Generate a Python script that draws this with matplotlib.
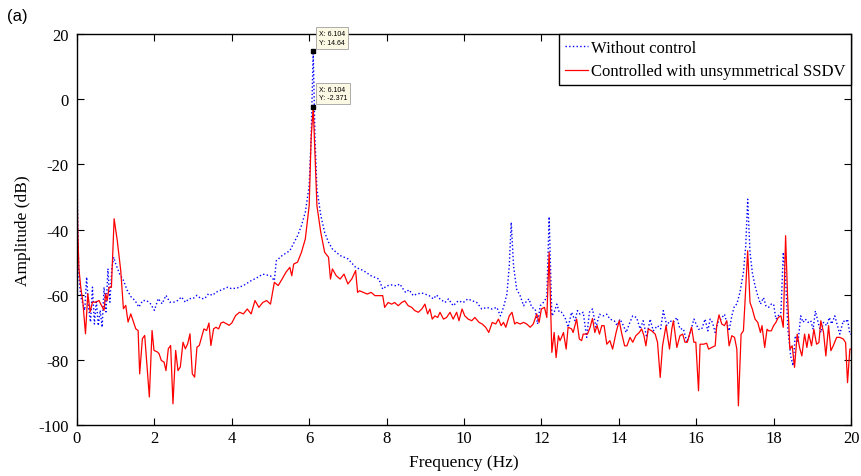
import numpy as np
import matplotlib.pyplot as plt

# Without control (blue, dotted)
f_blue = [0.0, 0.02, 0.05, 0.1, 0.2, 0.25, 0.3, 0.35, 0.4, 0.45, 0.5, 0.55, 0.6, 0.65, 0.7, 0.75,
          0.8, 0.85, 0.9, 0.95, 1.0, 1.1, 1.2, 1.3, 1.4, 1.5, 1.6, 1.7, 1.8, 1.9, 2.0, 2.1, 2.2,
          2.3, 2.4, 2.5, 2.6, 2.7, 2.8, 2.9, 3.0, 3.1, 3.2, 3.3, 3.4, 3.5, 3.6, 3.7, 3.8, 3.9,
          4.0, 4.15, 4.3, 4.5, 4.65, 4.8, 5.0, 5.1, 5.15, 5.3, 5.5, 5.7, 5.8, 5.9, 6.0, 6.05,
          6.104, 6.15, 6.2, 6.3, 6.4, 6.5, 6.6, 6.8, 7.0, 7.2, 7.4, 7.6, 7.8, 7.9, 8.0,
          8.13, 8.26, 8.34, 8.43, 8.49, 8.58, 8.69, 8.78, 8.91, 8.99, 9.10, 9.21, 9.29, 9.38,
          9.51, 9.60, 9.72, 9.85, 9.98, 10.10, 10.22, 10.33, 10.46, 10.59, 10.72, 10.85, 10.94,
          11.02, 11.11, 11.17, 11.22, 11.28, 11.36, 11.45, 11.54, 11.62, 11.68, 11.75, 11.84,
          11.90, 11.97, 12.05, 12.14, 12.20, 12.27, 12.33, 12.40, 12.46, 12.52, 12.61, 12.69,
          12.78, 12.87, 12.93, 13.00, 13.08, 13.17, 13.24, 13.32, 13.41, 13.50, 13.60, 13.69,
          13.77, 13.88, 13.96, 14.03, 14.12, 14.19, 14.27, 14.36, 14.46, 14.55, 14.63, 14.72,
          14.81, 14.89, 15.00, 15.08, 15.15, 15.24, 15.32, 15.41, 15.50, 15.58, 15.67, 15.76,
          15.86, 15.94, 16.06, 16.14, 16.23, 16.30, 16.36, 16.42, 16.49, 16.56, 16.64, 16.73,
          16.79, 16.85, 16.92, 16.99, 17.05, 17.13, 17.22, 17.28, 17.33, 17.39, 17.45, 17.52,
          17.59, 17.66, 17.74, 17.80, 17.87, 17.94, 18.00, 18.06, 18.12, 18.19, 18.25, 18.31,
          18.37, 18.44, 18.50, 18.56, 18.63, 18.70, 18.76, 18.82, 18.89, 18.96, 19.02, 19.08,
          19.15, 19.22, 19.29, 19.37, 19.44, 19.50, 19.58, 19.65, 19.71, 19.80, 19.86, 19.91,
          19.97, 20.0]
a_blue = [-17, -40, -54.6, -60.7, -64.8, -54.6, -64, -68.4, -57.7, -69, -61.7, -69.5, -64.8, -70,
          -57.7, -65.3, -52, -62.3, -52, -48.5, -50.5, -53.6, -55.6, -58.7, -60.7, -61.8, -63.8,
          -61.8, -61.8, -62.8, -64.8, -61.2, -62.8, -60.2, -62.3, -62.3, -61.8, -60.7, -62.3,
          -61.2, -61.2, -60.2, -61.2, -61.2, -59.7, -60.2, -59.2, -58.7, -58.2, -57.7,
          -58.2, -57.9, -57.2, -55.7, -54.8, -53.7, -54.2, -55.7, -49.6, -48, -46.5, -41.9,
          -38.8, -34.7, -26.5, -12, 14.64, -12, -27.5, -35.7, -40.9, -43.9, -46, -48, -49,
          -51.6, -52.6, -54.2, -55.2, -58.3, -57.3,
          -57.0, -57.3, -56.7, -58.3, -59.3, -58.5, -60.3, -59.8, -59.5, -59.8, -60.3, -61.3,
          -60.1, -61.3, -62.4, -61.3, -63.4, -61.9, -62.4, -61.3, -61.9, -62.4, -64.4, -63.9,
          -64.4, -63.9, -66.5, -63.9, -59.8, -51.1, -37.8, -51.1, -58.3, -60.3, -63.4, -61.9,
          -61.3, -63.9, -64.4, -69, -63.4, -62.4, -60.8, -36.1, -66.5, -65.4, -62.9, -65.4,
          -65.4, -67, -70, -65.4, -68, -64.9, -66, -65.4, -73.1, -65.4, -64.4, -70, -66,
          -66.5, -66, -67.5, -68, -69.5, -67.5, -69.5, -71.6, -69, -66.5, -67, -70.5, -68,
          -73.1, -67.5, -71.1, -69.5, -70.5, -64.9, -69.5, -68, -68.5, -67, -70.5, -70.5,
          -74.6, -71.1, -67.5, -70.6, -70.6, -67.5, -71.1, -67.5, -68.5, -71.6, -68.5, -67.5,
          -66, -68.5, -71.1, -66.5, -63.4, -62.9, -59.3, -53.2, -45, -30.7, -47, -53.2,
          -57.3, -60.3, -62.9, -60.9, -63.4, -63.9, -62.9, -62.9, -67.5, -66.5, -65.4, -47,
          -55.2, -70.6, -78.8, -81.8, -72.6, -74.7, -66.5, -68.5, -67.5, -68.5, -68, -70.6,
          -65, -68.5, -71.6, -68.5, -69.5, -67, -69, -66.5, -69.5, -72.1, -68, -68.5, -67.5,
          -72.1, -72.1]

# Controlled with unsymmetrical SSDV (red, solid)
f_red = [0.0, 0.02, 0.05, 0.1, 0.15, 0.22, 0.28, 0.34, 0.40, 0.48, 0.57, 0.61, 0.70, 0.74, 0.78,
         0.83, 0.89, 0.96, 1.04, 1.13, 1.20, 1.26, 1.32, 1.39, 1.46, 1.52, 1.58, 1.62, 1.69,
         1.75, 1.82, 1.87, 1.94, 1.99, 2.08, 2.12, 2.18, 2.25, 2.30, 2.36, 2.42, 2.48, 2.55,
         2.61, 2.67, 2.74, 2.80, 2.86, 2.92, 2.98, 3.04, 3.10, 3.16, 3.22, 3.28, 3.35, 3.41,
         3.46, 3.53, 3.59, 3.66, 3.72, 3.78, 3.86, 3.93, 4.0, 4.1, 4.2, 4.3, 4.4, 4.5, 4.6,
         4.7, 4.8, 4.9, 5.0, 5.1, 5.2, 5.3, 5.4, 5.5, 5.55, 5.6, 5.7, 5.8, 5.9, 6.0, 6.05,
         6.104, 6.15, 6.2, 6.3, 6.4, 6.5, 6.55, 6.6, 6.7, 6.8, 6.9, 7.0, 7.1, 7.2, 7.25, 7.3,
         7.4, 7.5, 7.6, 7.7, 7.8, 7.9, 7.95, 8.04, 8.13, 8.21, 8.30, 8.39, 8.47, 8.56, 8.65,
         8.73, 8.82, 8.91, 8.99, 9.06, 9.12, 9.18, 9.25, 9.32, 9.38, 9.47, 9.55, 9.64, 9.72,
         9.81, 9.87, 9.95, 10.02, 10.11, 10.20, 10.28, 10.39, 10.47, 10.56, 10.64, 10.73,
         10.82, 10.89, 10.96, 11.02, 11.08, 11.17, 11.24, 11.31, 11.36, 11.45, 11.54, 11.62,
         11.71, 11.79, 11.88, 11.94, 12.00, 12.08, 12.14, 12.20, 12.27, 12.33, 12.38, 12.44,
         12.48, 12.52, 12.57, 12.64, 12.69, 12.78, 12.82, 12.91, 12.98, 13.04, 13.08, 13.19,
         13.26, 13.32, 13.38, 13.44, 13.50, 13.56, 13.62, 13.69, 13.77, 13.84, 13.93, 14.01,
         14.07, 14.15, 14.21, 14.29, 14.36, 14.44, 14.53, 14.59, 14.65, 14.70, 14.76, 14.85,
         14.94, 15.00, 15.07, 15.13, 15.22, 15.31, 15.37, 15.41, 15.50, 15.58, 15.65, 15.71,
         15.77, 15.88, 15.94, 15.99, 16.06, 16.10, 16.19, 16.27, 16.32, 16.40, 16.49, 16.53,
         16.59, 16.66, 16.73, 16.79, 16.85, 16.92, 16.99, 17.05, 17.09, 17.16, 17.22, 17.26,
         17.33, 17.39, 17.45, 17.52, 17.59, 17.66, 17.70, 17.77, 17.83, 17.87, 17.94, 18.00,
         18.06, 18.12, 18.19, 18.25, 18.31, 18.36, 18.42, 18.48, 18.54, 18.61, 18.67, 18.73,
         18.80, 18.86, 18.91, 18.98, 19.04, 19.11, 19.17, 19.22, 19.29, 19.35, 19.42, 19.48,
         19.54, 19.63, 19.71, 19.80, 19.86, 19.91, 19.97, 20.0]
a_red = [-24.9, -40, -52, -58, -62, -72.0, -59.7, -65.3, -62.3, -62.3, -61.8, -62.8, -64.8,
         -59.7, -61.8, -57.7, -57.7, -36.7, -43.3, -52.5, -64.3, -63.3, -68.4, -65.9, -68.4,
         -70.5, -71, -84.3, -73.5, -72.5, -83.3, -91.4, -71, -77.1, -77.6, -78.1, -80.2, -80.7,
         -83.3, -76.6, -75.6, -93.5, -77.1, -83.3, -82.2, -74.6, -76.6, -75.1, -72, -84.3,
         -85.3, -76.1, -75.6, -73, -70.5, -71, -68.7, -75.6, -70.5, -70, -70.5, -68.7, -68.4,
         -68.9, -69.4, -68.7, -66.4, -65.4, -65.9, -64.4, -65.9, -61.8, -63.9, -62.4, -61.8,
         -62.9, -56.2, -57.2, -55.2, -53.1, -51.6, -54.2, -50.6, -50, -47, -42.9, -32.6, -12,
         -2.371, -17.3, -32.7, -40.9, -47, -48.5, -55.2, -52.1, -54.2, -55.2, -53.7, -56.7,
         -55.2, -52.6, -59.3, -58.8, -59.3, -59.8, -59.3, -60.3, -60.3, -60.3, -63.9,
         -62.4, -62.9, -62.4, -63.4, -62.4, -61.9, -63.4, -63.9, -64.9, -65.4, -64.4, -62.9,
         -65.9, -64.4, -67.5, -66.5, -67, -65.4, -67.5, -67, -65.4, -67.5, -65.4, -68, -64.4,
         -66.5, -67.5, -68, -67, -68.5, -69, -70, -71.6, -68.5, -69, -67.5, -69.5, -68.5, -70,
         -66.5, -65.4, -69, -68.5, -69, -68.5, -69, -70, -69, -65.9, -68.5, -64.4, -63.9, -67,
         -47, -77.7, -71.6, -79.3, -72.6, -74.1, -73.1, -71.6, -76.7, -70, -70.5, -71.6, -67.5,
         -73.6, -74.1, -72.1, -72.1, -70, -67.3, -71.6, -69.5, -72.1, -69.5, -69.5, -75.2,
         -74.1, -76.7, -71.6, -68, -71.6, -75.7, -75.7, -73.1, -74.6, -72.6, -71.6, -70.5,
         -72.6, -75.7, -70.5, -71.1, -72.1, -74.6, -85.4, -75.7, -69.5, -76.7, -70.5, -68,
         -76.2, -72.6, -72.1, -74.6, -74.6, -70, -74.6, -74.6, -89.5, -75.2, -75.2, -74.9,
         -76.7, -76.2, -75.7, -69.5, -66.2, -69, -69.5, -68, -75.7, -72.6, -73.1, -76.7,
         -94.1, -72.1, -71.1, -62.4, -46.5, -62.4, -64.4, -67.5, -68.5, -71.6, -69.5, -76.2,
         -70.6, -71.1, -71.1, -69.5, -68.5, -67, -66.5, -70, -41.9, -60.3, -76.7, -75.7,
         -82.3, -72.1, -76.2, -78.8, -72.1, -76.2, -72.1, -75.7, -70.6, -75.2, -74.7, -68,
         -71.6, -78.8, -69.5, -77.2, -75.7, -73.1, -73.1, -73.6, -74.7, -87, -76.7, -76.7]

# data tips
tip_x = 6.104
tip_y = [14.64, -2.371]
tip_txt = ['X: 6.104\nY: 14.64', 'X: 6.104\nY: -2.371']

plt.rcParams['font.family'] = ['Liberation Serif', 'DejaVu Serif']
plt.rcParams['axes.unicode_minus'] = False

fig = plt.figure(figsize=(8.61, 4.77), dpi=100)
ax = fig.add_axes([0.0894, 0.1069, 0.8990, 0.8197])

ax.plot(f_blue, a_blue, ':', color='blue', linewidth=1.0, label='Without control')
ax.plot(f_red, a_red, '-', color='red', linewidth=0.9, label='Controlled with unsymmetrical SSDV')

for yv, txt in zip(tip_y, tip_txt):
    ax.plot(tip_x, yv, 's', color='black', markersize=3.5, clip_on=False, zorder=5)
    ax.annotate(txt, xy=(tip_x, yv), xytext=(4, 4), textcoords='offset points',
                fontsize=5, family='Liberation Sans', va='bottom', ha='left',
                annotation_clip=False, linespacing=1.3,
                bbox=dict(boxstyle='square,pad=0.45', facecolor='#fbf8e4', edgecolor='#a0a0a0',
                          linewidth=0.6), zorder=6)

ax.set_xlim(0, 20)
ax.set_ylim(-100, 20)
ax.set_xticks(np.arange(0, 21, 2))
ax.set_yticks(np.arange(-100, 21, 20))
ax.tick_params(direction='in', top=True, right=True, labelsize=12, length=5, width=0.8)
ax.tick_params(axis='y', pad=6)
for s in ax.spines.values():
    s.set_linewidth(1.0)

ax.set_xlabel('Frequency (Hz)', fontsize=12.5, labelpad=6)
ax.set_ylabel('Amplitude (dB)', fontsize=12.5, labelpad=5)

leg = ax.legend(loc='upper right', fontsize=12, fancybox=False, framealpha=1,
                edgecolor='black', borderpad=0.35, labelspacing=0.45, handlelength=1.4,
                handletextpad=0.15, borderaxespad=0.0)
leg.get_frame().set_linewidth(1.0)

fig.text(0.008, 0.955, '(a)', fontsize=12, family='Liberation Sans')

fig.savefig('out.png', dpi=100)
